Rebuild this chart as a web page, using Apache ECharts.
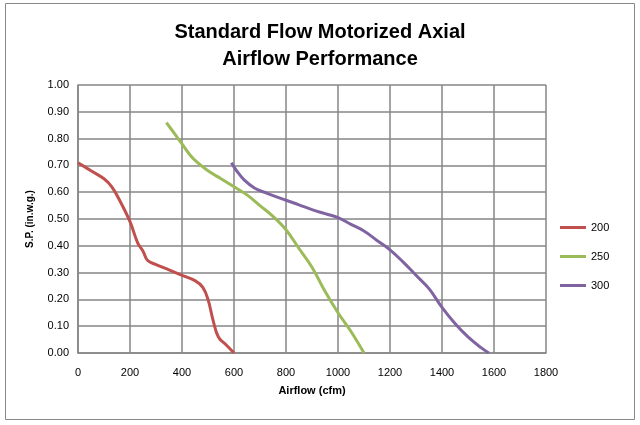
<!DOCTYPE html>
<html><head><meta charset="utf-8">
<script src="https://cdn.jsdelivr.net/npm/echarts@6/dist/echarts.min.js"></script>
<style>html,body{margin:0;padding:0;background:#fff}#c{width:640px;height:425px}</style>
</head><body><div id="c"></div>
<script>
const titleText = 'Standard Flow Motorized Axial\nAirflow Performance';
const xTicks = [0,200,400,600,800,1000,1200,1400,1600,1800];
const yTicks = [0,0.1,0.2,0.3,0.4,0.5,0.6,0.7,0.8,0.9,1.0];
const seriesNames = ['200','250','300'];
const s200 = [[0,0.71],[50,0.68],[100,0.65],[130,0.62],[160,0.57],[200,0.49],[230,0.41],[250,0.38],[268,0.345],[300,0.33],[350,0.31],[400,0.29],[450,0.27],[480,0.245],[500,0.2],[520,0.12],[540,0.06],[570,0.03],[600,0.0]];
const s250 = [[340,0.86],[370,0.82],[400,0.78],[430,0.74],[460,0.71],[500,0.68],[550,0.65],[600,0.62],[650,0.59],[700,0.55],[750,0.51],[800,0.46],[850,0.39],[900,0.32],[950,0.23],[1000,0.15],[1050,0.08],[1100,0.0]];
const s300 = [[590,0.71],[610,0.68],[640,0.645],[680,0.615],[730,0.595],[800,0.57],[850,0.553],[900,0.535],[950,0.52],[1000,0.505],[1050,0.48],[1100,0.455],[1150,0.42],[1200,0.385],[1250,0.34],[1300,0.29],[1350,0.24],[1400,0.17],[1450,0.11],[1500,0.06],[1550,0.02],[1580,0.0]];
const colors = ['#C0504D','#9BBB59','#8064A2'];
const FONT = '"Liberation Sans Narrow","Liberation Sans",Arial,sans-serif';
const chart = echarts.init(document.getElementById('c'), null, {renderer:'canvas'});
const mk = (name, data, i) => ({name, type:'line', data, smooth:0.4, showSymbol:false, symbol:'none',
  lineStyle:{color:colors[i], width:3}, itemStyle:{color:colors[i]}});
chart.setOption({
  animation:false,
  textStyle:{fontFamily:FONT},
  graphic:[{type:'rect', shape:{x:5.5,y:3.5,width:629,height:416}, style:{fill:null, stroke:'#888', lineWidth:1}, silent:true}],
  title:{text:titleText, left:'center', top:14, textStyle:{fontFamily:FONT, fontWeight:'bold', fontSize:20, color:'#000', lineHeight:27}},
  legend:{orient:'vertical', left:555, top:217, itemGap:18, itemWidth:26, itemHeight:3,
    icon:'rect', textStyle:{fontFamily:FONT, fontSize:11, color:'#000'}, data:seriesNames},
  grid:{left:78, right:94, top:85, bottom:72},
  xAxis:{type:'value', min:0, max:1800, interval:200, name:'Airflow (cfm)', nameLocation:'middle', nameGap:32,
    nameTextStyle:{fontFamily:FONT, fontWeight:'bold', fontSize:11, color:'#000'},
    axisLine:{show:true, lineStyle:{color:'#868686', width:1.5}}, axisTick:{show:false},
    axisLabel:{fontFamily:FONT, fontSize:11, color:'#000', margin:14, formatter:v=>String(v)},
    splitLine:{show:true, lineStyle:{color:'#868686', width:1.5}}},
  yAxis:{type:'value', min:0, max:1, interval:0.1, name:'S.P. (in.w.g.)', nameLocation:'middle', nameGap:43, nameRotate:90,
    nameTextStyle:{fontFamily:FONT, fontWeight:'bold', fontSize:10, color:'#000'},
    axisLine:{show:true, lineStyle:{color:'#868686', width:1.5}}, axisTick:{show:false},
    axisLabel:{fontFamily:FONT, fontSize:11, color:'#000', margin:9, formatter:v=>v.toFixed(2)},
    splitLine:{show:true, lineStyle:{color:'#868686', width:1.5}}},
  series:[mk('200',s200,0), mk('250',s250,1), mk('300',s300,2)]
});
</script></body></html>
